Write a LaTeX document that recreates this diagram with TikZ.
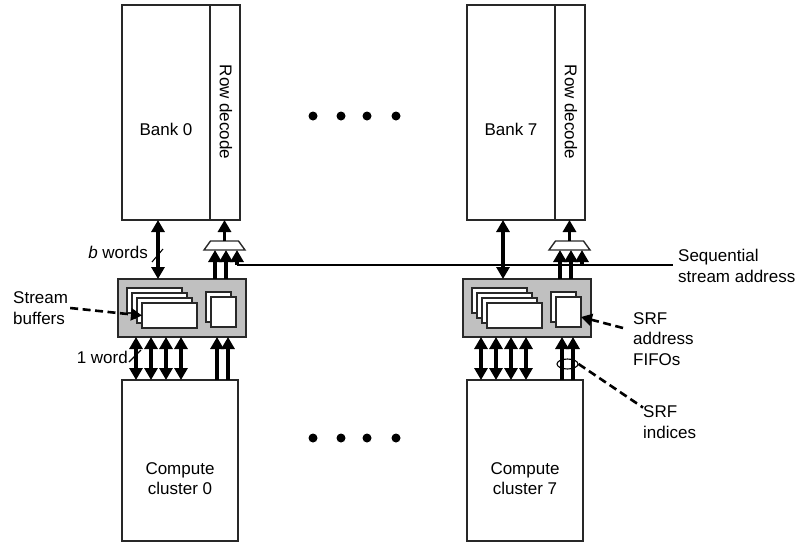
\documentclass[tikz,border=0pt]{standalone}
\usepackage{fontspec}
\setmainfont{Liberation Sans}
\usetikzlibrary{arrows.meta,shapes.geometric}
\definecolor{srfgray}{RGB}{192,192,192}
\definecolor{edgecol}{RGB}{40,40,40}
\begin{document}
\begin{tikzpicture}[x=1pt,y=-1pt,
  font=\fontsize{17}{20.5}\selectfont,
  box/.style={draw=edgecol, line width=1.4pt, fill=white, inner sep=0pt, outer sep=0pt, anchor=north west},
  grayblock/.style={box, fill=srfgray},
  muxshape/.style={draw=edgecol, fill=white, line width=1.4pt, line join=miter},
  dbl/.style={line width=3.2pt, {Triangle[width=13pt,length=12pt]}-{Triangle[width=13pt,length=12pt]}},
  uparrow/.style={line width=3.2pt, -{Triangle[width=13pt,length=12pt]}},
  pointer/.style={line width=2.6pt, dash pattern=on 8pt off 4.5pt},
  ptrhead/.style={-{Triangle[width=12pt,length=11pt]}},
  txt/.style={inner sep=0pt, align=left},
  tickmark/.style={line width=1.1pt},
  dotmark/.style={circle, fill=black, inner sep=0pt, minimum size=9pt}]
\useasboundingbox (0,0) rectangle (798,542);

\foreach \i/\s in {0/0,7/345}{
\begin{scope}[xshift=\s pt]
  % memory bank and row decoder
  \node[box, minimum width=88pt, minimum height=215pt] (bank\i) at (122,5) {};
  \node[box, minimum width=30pt, minimum height=215pt] (rowdec\i) at (210,5) {};
  \node[rotate=-90, inner sep=0pt] (rdtext\i) at (226,112) {Row decode};
  \node[inner sep=0pt] (banktext\i) at (166,129) {Bank \i};
  % multiplexer
  \draw[muxshape] (204,250) -- (245,250) -- (238.5,241) -- (210.5,241) -- cycle;
  \coordinate (muxN\i) at (224.5,241);
  \coordinate (muxS\i) at (224.5,250);
  % SRF block
  \node[grayblock, minimum width=128pt, minimum height=58pt] (srf\i) at (118,279) {};
  \foreach \k in {0,1,2,3}{
    \node[box, minimum width=55pt, minimum height=25pt] (sb\i\k) at (127+5*\k,288+5*\k) {};
  }
  \node[box, minimum width=25pt, minimum height=30pt] (fifoA\i) at (206,292) {};
  \node[box, minimum width=25pt, minimum height=30pt] (fifoB\i) at (211,297) {};
  % compute cluster
  \node[box, minimum width=116pt, minimum height=161pt] (comp\i) at (122,380) {};
  \node[inner sep=0pt, align=center] (comptext\i) at (180,478.5) {Compute\\cluster \i};
  % connectors
  \coordinate (xb\i) at (158,0);
  \draw[dbl] (bank\i.south -| xb\i) -- (srf\i.north -| xb\i);
  \draw[uparrow] (muxN\i) -- (rowdec\i.south -| muxN\i);
  \foreach \x in {215,226}{
    \coordinate (xm) at (\x,0);
    \draw[uparrow] (srf\i.north -| xm) -- (muxS\i -| xm);
  }
  \coordinate (seq\i) at (237,265);
  \draw[uparrow] (seq\i) -- (muxS\i -| seq\i);
  \foreach \x in {136,151,166,181}{
    \coordinate (xd) at (\x,0);
    \draw[dbl] (comp\i.north -| xd) -- (srf\i.south -| xd);
  }
  \foreach \x in {217,228}{
    \coordinate (xu) at (\x,0);
    \draw[uparrow] (comp\i.north -| xu) -- (srf\i.south -| xu);
  }
\end{scope}
}

% sequential stream address line
\coordinate (seqend) at (673,265);
\draw[line width=1.1pt] (seq0) -- (seqend);
\node[txt, anchor=west] (seqlabel) at (678,266) {Sequential\\stream address};

% ellipses of dots
\foreach \x in {313,341,367,396}{
  \node[dotmark] (dotT\x) at (\x,116) {};
  \node[dotmark] (dotB\x) at (\x,438) {};
}

% width labels
\node[txt, anchor=east] (bwords) at (148,252) {\textit{b} words};
\draw[tickmark] (152,262) -- (163,249);
\node[txt, anchor=east] (oneword) at (128,357) {1 word};
\draw[tickmark] (129,362) -- (141,350);

% callouts
\node[txt, anchor=west] (sblabel) at (13,308) {Stream\\buffers};
\draw[pointer, ptrhead] ([xshift=2pt]sblabel.east) -- (sb03.west);

\node[txt, anchor=west] (fifolabel) at (633,339) {SRF\\address\\FIFOs};
\coordinate (fifoptr) at (623,328);
\draw[pointer, ptrhead] (fifoptr) -- ([yshift=-5pt]fifoB7.east);

\node[ellipse, draw=black, line width=1.1pt, minimum width=21pt, minimum height=10pt, inner sep=0pt] (idxring) at (567.5,364) {};
\node[txt, anchor=west] (idxlabel) at (643,422) {SRF\\indices};
\draw[pointer] (idxring.east) -- ([yshift=-2pt]idxlabel.north west);
\end{tikzpicture}
\end{document}
